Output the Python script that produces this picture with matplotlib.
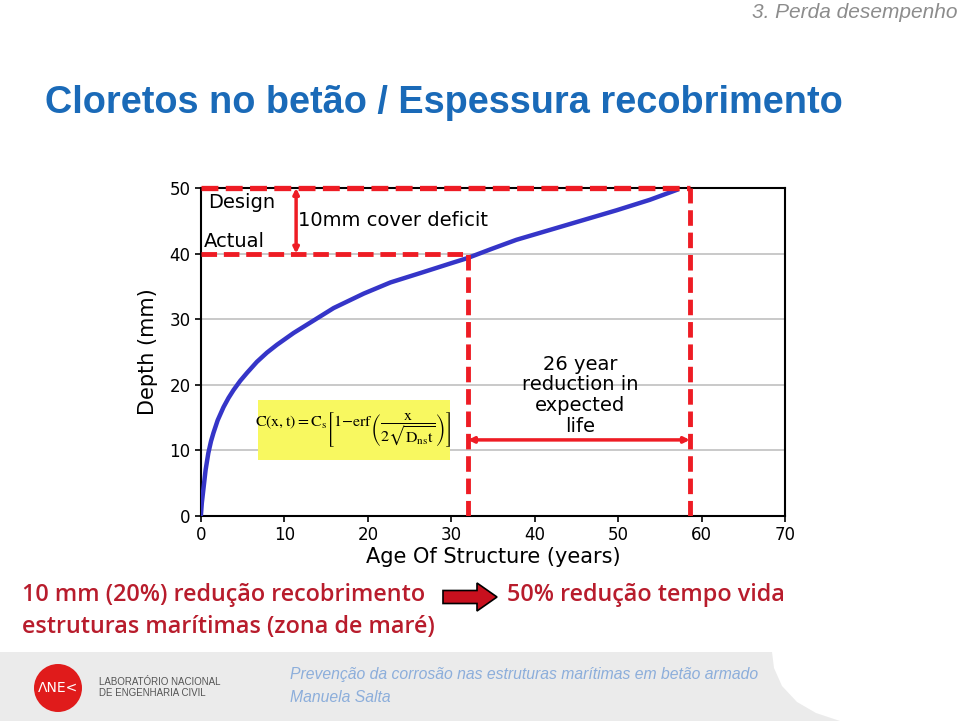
import numpy as np
import matplotlib.pyplot as plt
from matplotlib.patches import Polygon, Ellipse, Rectangle, FancyArrow

plt.rcParams['mathtext.fontset'] = 'stix'

# curve: age (years) vs depth (mm)
age = [0.0, 0.1, 0.28, 0.55, 0.88, 1.2, 1.5, 2.0, 2.7, 3.3, 3.9, 4.7, 5.5, 6.7, 7.9,
       9.1, 11.1, 13.5, 15.9, 19.5, 22.7, 26.7, 29.9, 31.9, 34.8, 37.8, 41.8,
       45.8, 49.8, 53.8, 57.0]
depth = [0.3, 2.0, 4.0, 7.0, 9.6, 11.4, 12.7, 14.6, 16.6, 18.0, 19.2, 20.6, 21.8, 23.5, 24.9,
         26.1, 27.9, 29.8, 31.7, 33.9, 35.6, 37.2, 38.5, 39.3, 40.7, 42.1, 43.6,
         45.1, 46.6, 48.2, 49.7]

design_cover = 50
actual_cover = 40
t_actual = 32.0
t_design = 58.6
x_ticks = [0, 10, 20, 30, 40, 50, 60, 70]
y_ticks = [0, 10, 20, 30, 40, 50]

W, H = 960, 721
fig = plt.figure(figsize=(9.6, 7.21), dpi=100)


def fx(x):
    return x / W


def fy(y):
    return 1 - y / H


# footer band
band = [(0, 652), (772, 652), (774, 668), (782, 686), (797, 702), (816, 713), (840, 721), (0, 721)]
fig.patches.append(Polygon([(fx(a), fy(b)) for a, b in band], closed=True,
                           transform=fig.transFigure, facecolor='#ebebeb', edgecolor='none'))
fig.patches.append(Ellipse((fx(58), fy(688)), 48 / W, 48 / H, transform=fig.transFigure,
                           facecolor='#e01b1b', edgecolor='none'))
fig.text(fx(58), fy(688), 'ΛNE<', color='white', fontsize=10, ha='center', va='center',
         family='DejaVu Sans')
fig.text(fx(99), fy(682), 'LABORATÓRIO NACIONAL', color='#555555', fontsize=7,
         ha='left', va='center', family='Liberation Sans')
fig.text(fx(99), fy(693), 'DE ENGENHARIA CIVIL', color='#555555', fontsize=7,
         ha='left', va='center', family='Liberation Sans')
fig.text(fx(290), fy(675), 'Prevenção da corrosão nas estruturas marítimas em betão armado',
         color='#8caedb', fontsize=11.3, style='italic', ha='left', va='center',
         family='Liberation Sans')
fig.text(fx(290), fy(698), 'Manuela Salta', color='#8caedb', fontsize=11.3, style='italic',
         ha='left', va='center', family='Liberation Sans')

# header
fig.text(fx(958), fy(12), '3. Perda desempenho', color='#8c8c8c', fontsize=15,
         style='italic', ha='right', va='center', family='Liberation Sans')
fig.text(fx(45), fy(103), 'Cloretos no betão / Espessura recobrimento', color='#1a6ab8',
         fontsize=27.3, weight='bold', ha='left', va='center', family='Liberation Sans')

# bottom statements
red_txt = '#b81c2c'
fig.text(fx(22), fy(595), '10 mm (20%) redução recobrimento', color=red_txt, fontsize=16.8,
         weight='semibold', ha='left', va='center', family='Open Sans')
fig.text(fx(22), fy(627), 'estruturas marítimas (zona de maré)', color=red_txt, fontsize=16.8,
         weight='semibold', ha='left', va='center', family='Open Sans')
fig.text(fx(507), fy(595), '50% redução tempo vida', color=red_txt, fontsize=16.8,
         weight='semibold', ha='left', va='center', family='Open Sans')
fig.patches.append(FancyArrow(fx(443), fy(597), 34 / W, 0, width=13 / H, head_width=28 / H,
                              head_length=20 / W, length_includes_head=False,
                              transform=fig.transFigure, facecolor='#c8101e',
                              edgecolor='black', linewidth=1.2))

# chart
ax = fig.add_axes([fx(201), fy(516), (785 - 201) / W, (516 - 188) / H])
ax.set_xlim(0, 70)
ax.set_ylim(0, 50)
ax.set_xticks(x_ticks)
ax.set_yticks(y_ticks)
ax.tick_params(labelsize=12, length=4, width=1.2, direction='out')
for s in ax.spines.values():
    s.set_linewidth(1.5)
for yv in y_ticks[1:-1]:
    ax.axhline(yv, color='#c0c0c0', lw=1.2, zorder=0)

ax.plot(age, depth, color='#3535c8', lw=3.2, zorder=3)

red = '#ee1c24'
dash = (3.2, 1.4)
ax.plot([0, t_design], [design_cover, design_cover], color=red, lw=3.8, dashes=dash, zorder=4,
        clip_on=False)
ax.plot([0, t_actual], [actual_cover, actual_cover], color=red, lw=3.5, dashes=dash, zorder=4)
ax.plot([t_actual, t_actual], [0, actual_cover], color=red, lw=3.5, dashes=dash, zorder=4)
ax.plot([t_design, t_design], [0, design_cover], color=red, lw=3.5, dashes=dash, zorder=4)

ax.annotate('', xy=(11.4, design_cover), xytext=(11.4, actual_cover),
            arrowprops=dict(arrowstyle='<|-|>', color=red, lw=2.5, mutation_scale=8,
                            shrinkA=0, shrinkB=0))
ax.annotate('', xy=(t_actual, 11.6), xytext=(t_design, 11.6),
            arrowprops=dict(arrowstyle='<|-|>', color=red, lw=2.5, mutation_scale=8,
                            shrinkA=0, shrinkB=0))

ax.text(0.8, 47.8, 'Design', fontsize=14, ha='left', va='center', family='DejaVu Sans')
ax.text(0.3, 41.8, 'Actual', fontsize=14, ha='left', va='center', family='DejaVu Sans')
ax.text(11.6, 45.1, '10mm cover deficit', fontsize=14, ha='left', va='center',
        family='DejaVu Sans')
ax.text(45.4, 18.4, '26 year\nreduction in\nexpected\nlife', fontsize=14, ha='center',
        va='center', linespacing=1.12, family='DejaVu Sans')

ax.add_patch(Rectangle((6.8, 8.5), 23.0, 9.2, facecolor='#f8f860', edgecolor='none', zorder=2))
ax.text(18.3, 13.1,
        r'$\mathrm{C(x,t)=C_s}\left[1\mathrm{-erf}\left(\dfrac{\mathrm{x}}'
        r'{2\sqrt{\mathrm{D_{ns}t}}}\right)\right]$',
        fontsize=11.5, ha='center', va='center', zorder=3)

ax.set_xlabel('Age Of Structure (years)', fontsize=15, labelpad=2, family='DejaVu Sans')
ax.set_ylabel('Depth (mm)', fontsize=15, labelpad=8, family='DejaVu Sans')

fig.savefig('out.png', dpi=100)
